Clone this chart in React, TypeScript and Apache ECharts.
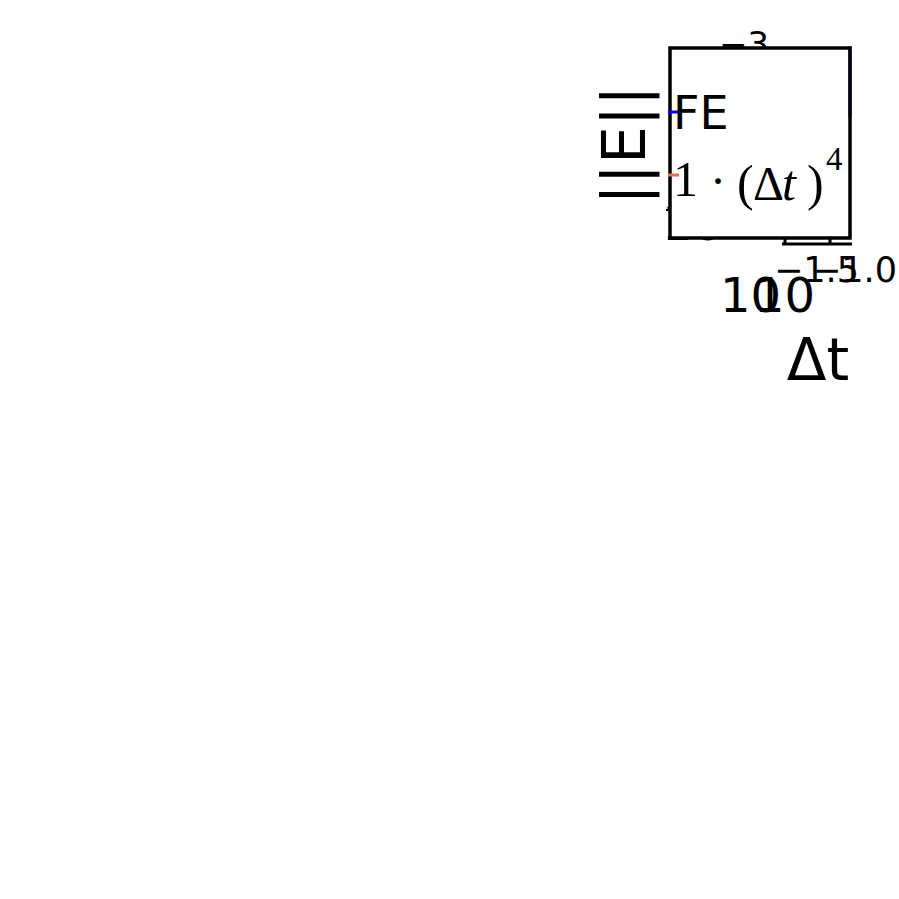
import React, { useEffect, useRef } from "react";
import * as echarts from "echarts";

// Data (log-log convergence plot, almost everything out of view)
const dtValues = [0.1667, 0.1667];
const feErrors = [1.3e-3, 4.3e-4];
const legendNames = ["FE", "ref"];
const xTickBase = ["10", "10"];
const xTickExp = ["\u22121.5", "\u22121.0"];
const yTickExp = ["\u22123"];

export default function App() {
  const ref = useRef<HTMLDivElement>(null);
  useEffect(() => {
    if (!ref.current) return;
    const chart = echarts.init(ref.current, undefined, { renderer: "svg" });
    const sans = "DejaVu Sans";
    const serif = "Liberation Serif";
    const t = (
      text: string,
      x: number,
      y: number,
      size: number,
      opts: any = {}
    ) => ({
      type: "text",
      z: opts.z ?? 10,
      rotation: opts.rotation ?? 0,
      x,
      y,
      style: {
        text,
        x: 0,
        y: 0,
        fill: "#000",
        font: `${opts.italic ? "italic " : ""}${size}px "${opts.family ?? sans}"`,
        align: opts.align ?? "left",
        verticalAlign: "middle",
      },
    });
    const feData = dtValues.map((d, i) => [d, feErrors[i]]);
    chart.setOption({
      animation: false,
      backgroundColor: "#fff",
      grid: { left: 670, top: 48, width: 180, height: 190, show: false },
      xAxis: { type: "log", min: 0.001667, max: 0.1667, show: false },
      yAxis: { type: "log", min: 1e-4, max: 1e-3, show: false },
      series: [
        {
          name: legendNames[0],
          type: "line",
          z: 3,
          data: feData,
          showSymbol: false,
          clip: true,
          lineStyle: { color: "#0000ff", width: 3 },
        },
      ],
      graphic: [
        // labels lying behind the axes background
        t("10", 662, 223, 48, { z: 0 }),
        t(yTickExp[0], 719, 44, 34, { z: 0 }),
        // axes background
        {
          type: "rect",
          z: 1,
          shape: { x: 670, y: 48, width: 180, height: 190 },
          style: { fill: "#fff" },
        },
        // frame
        {
          type: "rect",
          z: 6,
          shape: { x: 670, y: 48, width: 180, height: 190 },
          style: { fill: "none", stroke: "#000", lineWidth: 3.5 },
        },
        // x ticks below the frame
        {
          type: "line",
          z: 6,
          shape: { x1: 782, y1: 244, x2: 852, y2: 244 },
          style: { stroke: "#000", lineWidth: 3 },
        },
        {
          type: "line",
          z: 6,
          shape: { x1: 785, y1: 238, x2: 785, y2: 245 },
          style: { stroke: "#000", lineWidth: 3 },
        },
        {
          type: "line",
          z: 6,
          shape: { x1: 830, y1: 238, x2: 830, y2: 245 },
          style: { stroke: "#000", lineWidth: 3 },
        },
        {
          type: "line",
          z: 6,
          shape: { x1: 666, y1: 210, x2: 670, y2: 210 },
          style: { stroke: "#000", lineWidth: 2 },
        },
        // x tick labels
        t(xTickBase[0], 720, 295, 48),
        t(xTickBase[1], 754, 295, 48),
        t(xTickExp[0], 774, 270, 35),
        t(xTickExp[1], 812, 270, 35),
        // axis titles
        t("\u0394t", 818, 360, 58, { align: "center" }),
        t("||E||", 624, 145, 60, { align: "center", rotation: Math.PI / 2 }),
        // legend
        {
          type: "line",
          z: 10,
          shape: { x1: 668, y1: 112, x2: 679, y2: 112 },
          style: { stroke: "#0000ff", lineWidth: 3 },
        },
        {
          type: "line",
          z: 10,
          shape: { x1: 668, y1: 175, x2: 679, y2: 175 },
          style: { stroke: "#e5704a", lineWidth: 3 },
        },
        t(legendNames[0], 673, 113, 46),
        t("1", 673, 179, 50, { family: serif }),
        t("\u00b7", 710, 180, 48, { family: serif }),
        t("(", 737, 183, 50, { family: serif }),
        t("\u0394", 753, 183, 48, { family: serif }),
        t("t", 782, 183, 50, { family: serif, italic: true }),
        t(")", 807, 183, 50, { family: serif }),
        t("4", 826, 159, 33, { family: serif }),
      ],
    });
    return () => chart.dispose();
  }, []);
  return (
    <div
      ref={ref}
      style={{ position: "fixed", left: 0, top: 0, width: 899, height: 899 }}
    />
  );
}
